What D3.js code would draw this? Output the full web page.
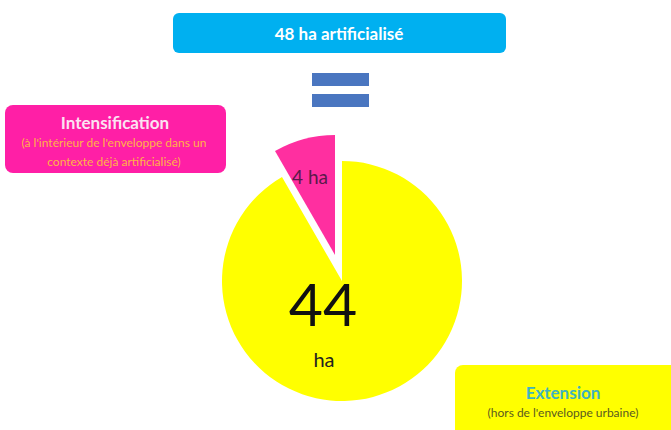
<!DOCTYPE html>
<html>
<head>
<meta charset="utf-8">
<script src="https://cdn.jsdelivr.net/npm/d3@7"></script>
<style>
  html, body { margin: 0; padding: 0; background: #fff; }
  svg { display: block; font-family: Lato, "Open Sans", sans-serif; }
</style>
</head>
<body>
<div id="chart"></div>
<script>
var categories = ['Extension', 'Intensification'];
var values = [44, 4];
var colors = ['#ffff00', '#ff2fa0'];
var totalLabel = '48 ha artificialisé';
var sliceLabels = ['44', '4 ha'];

var width = 671, height = 430,
    cx = 342, cy = 281, radius = 120, explode = 27;

var svg = d3.select('#chart').append('svg')
    .attr('width', width)
    .attr('height', height);

// top banner
svg.append('rect')
    .attr('x', 173).attr('y', 13)
    .attr('width', 333).attr('height', 40)
    .attr('rx', 6)
    .style('fill', '#00b0f0');
svg.append('text')
    .attr('x', 339).attr('y', 40)
    .attr('text-anchor', 'middle')
    .style('fill', '#fff')
    .style('font-weight', 'bold')
    .style('font-size', '17px')
    .text(totalLabel);

// equals sign
[73, 94].forEach(function (y) {
    svg.append('rect')
        .attr('x', 312).attr('y', y)
        .attr('width', 57).attr('height', 13)
        .style('fill', '#4a76c0');
});

// pie
var pie = d3.pie().sort(null).value(function (d) { return d; }),
    arc = d3.arc().innerRadius(0).outerRadius(radius),
    arcs = pie(values);

var g = svg.append('g').attr('transform', 'translate(' + cx + ',' + cy + ')');

g.selectAll('.slice')
    .data(arcs)
    .enter().append('path')
    .attr('class', 'slice')
    .attr('d', arc)
    .attr('transform', function (d, i) {
        if (i === 0) {
            return null;
        }
        var mid = (d.startAngle + d.endAngle) / 2;
        return 'translate(' + (Math.sin(mid) * explode) + ',' + (-Math.cos(mid) * explode) + ')';
    })
    .style('fill', function (d, i) { return colors[i]; });

// slice labels
g.append('text')
    .attr('x', -19).attr('y', 45)
    .attr('text-anchor', 'middle')
    .style('font-size', '59px')
    .style('fill', '#111')
    .text(sliceLabels[0]);
g.append('text')
    .attr('x', -18).attr('y', 86)
    .attr('text-anchor', 'middle')
    .style('font-size', '20px')
    .style('fill', '#222')
    .text('ha');
g.append('text')
    .attr('x', -32).attr('y', -97)
    .attr('text-anchor', 'middle')
    .style('font-size', '19px')
    .style('fill', '#5a1a4a')
    .text(sliceLabels[1]);

// Intensification box
svg.append('rect')
    .attr('x', 5).attr('y', 105)
    .attr('width', 221).attr('height', 68)
    .attr('rx', 8)
    .style('fill', '#ff1fa6');
svg.append('text')
    .attr('x', 115).attr('y', 129)
    .attr('text-anchor', 'middle')
    .style('fill', '#fbe3f2')
    .style('font-weight', 'bold')
    .style('font-size', '17px')
    .text(categories[1]);
svg.append('text')
    .attr('x', 114).attr('y', 147)
    .attr('text-anchor', 'middle')
    .style('fill', '#ffb347')
    .style('font-size', '12px')
    .text("(à l'intérieur de l'enveloppe dans un");
svg.append('text')
    .attr('x', 114).attr('y', 166)
    .attr('text-anchor', 'middle')
    .style('fill', '#ffb347')
    .style('font-size', '12px')
    .text('contexte déjà artificialisé)');

// Extension box
svg.append('rect')
    .attr('x', 455).attr('y', 365)
    .attr('width', 230).attr('height', 80)
    .attr('rx', 8)
    .style('fill', '#ffff00');
svg.append('text')
    .attr('x', 563).attr('y', 399)
    .attr('text-anchor', 'middle')
    .style('fill', '#3fb3c0')
    .style('font-weight', 'bold')
    .style('font-size', '17px')
    .text(categories[0]);
svg.append('text')
    .attr('x', 563).attr('y', 417)
    .attr('text-anchor', 'middle')
    .style('fill', '#5a5a20')
    .style('font-size', '12px')
    .text("(hors de l'enveloppe urbaine)");
</script>
</body>
</html>
